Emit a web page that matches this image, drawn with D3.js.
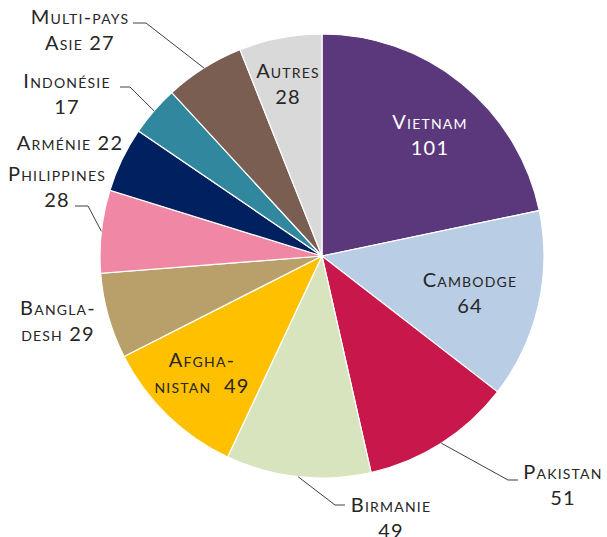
<!DOCTYPE html>
<html>
<head>
<meta charset="utf-8">
<script src="https://cdn.jsdelivr.net/npm/d3@7/dist/d3.min.js"></script>
<style>
  html, body { margin: 0; padding: 0; background: #ffffff; }
  svg text { font-family: "Lato", "DejaVu Sans", sans-serif; font-variant: small-caps; font-weight: 400; letter-spacing: 1.2px; }
</style>
</head>
<body>
<svg id="chart" width="607" height="537"></svg>
<script>
// Country shares, clockwise from 12 o'clock
const countries = ["Vietnam", "Cambodge", "Pakistan", "Birmanie", "Afghanistan", "Bangladesh",
                   "Philippines", "Arménie", "Indonésie", "Multi-pays Asie", "Autres"];
const values    = [101, 64, 51, 49, 49, 29, 28, 22, 17, 27, 28];
const colors    = ["#5b387c", "#b9cde5", "#c8174a", "#d7e4bd", "#ffc000", "#b9a06b",
                   "#f088a5", "#002060", "#31879d", "#7a5e51", "#d9d9d9"];

// Label text lines per slice (value appended to the last line)
const labelLines = [
  ["Vietnam", "{v}"], ["Cambodge", "{v}"], ["Pakistan", "{v}"], ["Birmanie", "{v}"],
  ["Afgha-", "nistan  {v}"], ["Bangla-", "desh {v}"], ["Philippines", "{v}"],
  ["Arménie {v}"], ["Indonésie", "{v}"], ["Multi-pays", "Asie {v}"], ["Autres", "{v}"]
];

const cx = 322, cy = 256, R = 222;
const svg = d3.select("#chart");
const g = svg.append("g").attr("transform", `translate(${cx},${cy})`);

const pie = d3.pie().sort(null).value(d => d.value);
const arcs = pie(countries.map((c, i) => ({ name: c, value: values[i], color: colors[i], lines: labelLines[i] })));
const arc = d3.arc().innerRadius(0).outerRadius(R);

g.selectAll("path.slice")
  .data(arcs)
  .join("path")
  .attr("class", "slice")
  .attr("d", arc)
  .attr("fill", d => d.data.color)
  .attr("stroke", "#ffffff")
  .attr("stroke-width", 1.2);

// Label placement: x/y of the text anchor relative to the centre, colour,
// and for outside labels an elbow + end point of the leader line.
const layout = {
  "Vietnam":        { x: 108, y: -127, fill: "#ffffff" },
  "Cambodge":       { x: 148, y: 31 },
  "Pakistan":       { x: 241, y: 223, leader: [[186, 224], [196, 224]] },
  "Birmanie":       { x: 69,  y: 256, leader: [[13, 249], [23, 249]] },
  "Afghanistan":    { x: -120, y: 111 },
  "Bangladesh":     { x: -264, y: 59 },
  "Philippines":    { x: -265, y: -75, leader: [[-234, -50], [-247, -50]] },
  "Arménie":        { x: -252, y: -106 },
  "Indonésie":      { x: -255, y: -168, leader: [[-192, -169], [-202, -169]] },
  "Multi-pays Asie":{ x: -242, y: -232, leader: [[-176, -233], [-189, -233]] },
  "Autres":         { x: -34, y: -178 }
};

// Leader lines start on the rim at the slice's mid-angle
const leaders = arcs.filter(d => layout[d.data.name].leader);
g.selectAll("path.leader")
  .data(leaders)
  .join("path")
  .attr("class", "leader")
  .attr("fill", "none")
  .attr("stroke", "#404040")
  .attr("stroke-width", 1)
  .attr("d", d => {
    const a = (d.startAngle + d.endAngle) / 2;
    const p0 = [R * Math.sin(a), -R * Math.cos(a)];
    const [e, f] = layout[d.data.name].leader;
    return d3.line()([p0, e, f]);
  });

const lineH = 26;
const labels = g.selectAll("text.lbl")
  .data(arcs)
  .join("text")
  .attr("class", "lbl")
  .attr("text-anchor", "middle")
  .attr("fill", d => layout[d.data.name].fill || "#262626")
  .attr("font-size", 20)
  .attr("transform", d => `translate(${layout[d.data.name].x},${layout[d.data.name].y})`);

labels.selectAll("tspan")
  .data(d => d.data.lines.map(l => l.replace("{v}", d.data.value)))
  .join("tspan")
  .attr("x", 0)
  .attr("dy", (d, i) => i === 0 ? 0 : lineH)
  .style("white-space", "pre")
  .text(d => d);
</script>
</body>
</html>
